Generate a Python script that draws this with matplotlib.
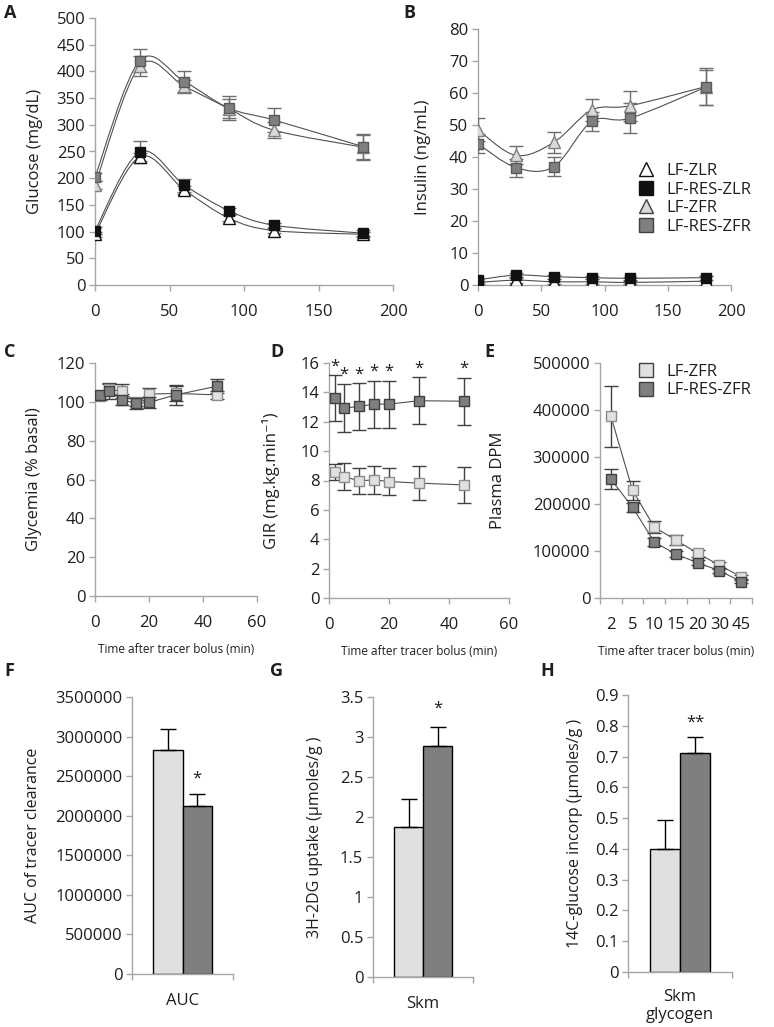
import numpy as np
import matplotlib
matplotlib.use("Agg")
import matplotlib.pyplot as plt
from matplotlib.path import Path
from matplotlib.patches import PathPatch
from matplotlib.lines import Line2D
from matplotlib.ticker import FuncFormatter

plt.rcParams["font.family"] = ["Open Sans", "DejaVu Sans"]

W, H = 774, 1027

# ---- data -------------------------------------------------------------
ogtt_time = [0, 30, 60, 90, 120, 180]

glucose_zlr = [95, 240, 178, 125, 102, 95]
glucose_zlr_err = [5, 8, 8, 6, 5, 5]
glucose_res_zlr = [102, 249, 187, 139, 112, 97]
glucose_res_zlr_err = [6, 20, 12, 6, 5, 6]
glucose_zfr = [187, 410, 372, 330, 290, 258]
glucose_zfr_err = [8, 18, 12, 18, 15, 22]
glucose_res_zfr = [202, 420, 381, 331, 309, 259]
glucose_res_zfr_err = [8, 22, 20, 22, 22, 24]

insulin_zlr = [0.8, 1.5, 1.0, 1.0, 0.8, 1.2]
insulin_zlr_err = [0.5, 1.0, 0.8, 0.8, 0.6, 1.5]
insulin_res_zlr = [1.6, 3.1, 2.6, 2.3, 2.1, 2.3]
insulin_res_zlr_err = [0.6, 0.8, 0.6, 0.5, 0.5, 0.6]
insulin_zfr = [48.5, 40.5, 44.6, 54.7, 56.0, 62.0]
insulin_zfr_err = [3.6, 2.8, 3.2, 3.4, 4.7, 5.8]
insulin_res_zfr = [44.1, 36.7, 37.0, 51.1, 52.1, 61.8]
insulin_res_zfr_err = [3.0, 2.8, 3.0, 3.0, 4.7, 5.5]

tracer_time = [2, 5, 10, 15, 20, 30, 45]
tracer_labels = ["2", "5", "10", "15", "20", "30", "45"]

glycemia_zfr = [103.0, 106.4, 105.5, 100.0, 104.0, 104.3, 103.6]
glycemia_zfr_err = [2, 3, 3.5, 2, 3, 4, 2]
glycemia_res_zfr = [103.5, 105.5, 101.2, 99.2, 99.7, 103.6, 108.0]
glycemia_res_zfr_err = [2, 4, 3, 3, 3, 5, 3.7]

gir_zfr = [8.57, 8.27, 7.98, 8.04, 7.93, 7.82, 7.70]
gir_zfr_err = [0.55, 0.9, 0.9, 0.95, 0.95, 1.15, 1.2]
gir_res_zfr = [13.6, 12.93, 13.04, 13.2, 13.2, 13.43, 13.4]
gir_res_zfr_err = [1.55, 1.65, 1.6, 1.6, 1.6, 1.6, 1.6]

dpm_zfr = [387000, 229000, 151000, 123000, 95000, 70000, 45000]
dpm_zfr_err = [65000, 21000, 13000, 10000, 8000, 6000, 5000]
dpm_res_zfr = [253000, 193000, 119000, 93000, 75000, 58000, 35000]
dpm_res_zfr_err = [21000, 10000, 8000, 6000, 5000, 4000, 4000]

auc_vals = [2830000, 2120000]
auc_err = [270000, 160000]
uptake_vals = [1.87, 2.89]
uptake_err = [0.36, 0.23]
glycogen_vals = [0.40, 0.71]
glycogen_err = [0.095, 0.055]

# ---- colours ----------------------------------------------------------
COLORS = {
    "axis": "#a6a6a6",
    "text": "#1e1e1e",
    "line": "#505050",
    "light": "#e0e0e0",
    "light_edge": "#8c8c8c",
    "dark": "#7f7f7f",
    "dark_edge": "#404040",
    "black": "#111111",
    "err": "#6e6e6e",
}

fig = plt.figure(figsize=(W / 100, H / 100), dpi=100)


def add_axes_px(left, top, right, bottom):
    return fig.add_axes([left / W, 1 - bottom / H, (right - left) / W, (bottom - top) / H])


def style_axes(ax, size):
    for s in ["top", "right"]:
        ax.spines[s].set_visible(False)
    for s in ["left", "bottom"]:
        ax.spines[s].set_color(COLORS["axis"])
        ax.spines[s].set_linewidth(1.0)
    ax.tick_params(axis="both", direction="out", length=4, width=1,
                   color=COLORS["axis"], labelsize=size, labelcolor=COLORS["text"])
    ax.tick_params(axis="y", pad=3)
    ax.tick_params(axis="x", pad=10)
    ax.yaxis.set_major_formatter(FuncFormatter(lambda v, p: f"{v:.10g}"))


def smooth_line(ax, x, y, color, lw=0.8):
    # excel-like smoothed line drawn as a bezier path through the points
    pts = np.column_stack([x, y]).astype(float)
    n = len(pts)
    verts = [pts[0]]
    codes = [Path.MOVETO]
    for i in range(n - 1):
        p0 = pts[i - 1] if i > 0 else pts[i]
        p1 = pts[i]
        p2 = pts[i + 1]
        p3 = pts[i + 2] if i + 2 < n else pts[i + 1]
        verts += [p1 + (p2 - p0) / 6, p2 - (p3 - p1) / 6, p2]
        codes += [Path.CURVE4] * 3
    ax.add_patch(PathPatch(Path(verts, codes), facecolor="none", edgecolor=color, lw=lw, zorder=2))


def series(ax, x, y, err, marker, ms, fc, ec, err_color, smooth=True):
    if smooth:
        smooth_line(ax, x, y, COLORS["line"])
    else:
        ax.plot(x, y, color=COLORS["line"], lw=0.8, zorder=2)
    ax.errorbar(x, y, yerr=err, fmt="none", ecolor=err_color, elinewidth=1,
                capsize=5, capthick=1, zorder=3)
    ax.plot(x, y, ls="none", marker=marker, ms=ms, mfc=fc, mec=ec, mew=1, zorder=4)


def panel_letter(x, y, s):
    fig.text(x / W, 1 - y / H, s, fontsize=13, fontweight="bold",
             color=COLORS["text"], ha="left", va="center")


# ---- A: glucose -------------------------------------------------------
ax_a = add_axes_px(95, 18, 393, 285)
style_axes(ax_a, 12)
series(ax_a, ogtt_time, glucose_zlr, glucose_zlr_err, "^", 8, "white", COLORS["black"], COLORS["err"])
series(ax_a, ogtt_time, glucose_res_zlr, glucose_res_zlr_err, "s", 7.5, COLORS["black"], COLORS["black"], COLORS["err"])
series(ax_a, ogtt_time, glucose_zfr, glucose_zfr_err, "^", 8, "#d9d9d9", COLORS["dark"], COLORS["err"])
series(ax_a, ogtt_time, glucose_res_zfr, glucose_res_zfr_err, "s", 7.5, COLORS["dark"], "#5a5a5a", COLORS["err"])
ax_a.set_xlim(0, 200)
ax_a.set_ylim(0, 500)
ax_a.set_xticks(np.arange(0, 201, 50))
ax_a.set_yticks(np.arange(0, 501, 50))
ax_a.set_ylabel("Glucose (mg/dL)", fontsize=12, color=COLORS["text"])
ax_a.yaxis.set_label_coords(-0.175, 0.5)

# ---- B: insulin -------------------------------------------------------
ax_b = add_axes_px(478, 29, 731, 285)
style_axes(ax_b, 12)
series(ax_b, ogtt_time, insulin_zlr, insulin_zlr_err, "^", 8, "white", COLORS["black"], COLORS["err"])
series(ax_b, ogtt_time, insulin_res_zlr, insulin_res_zlr_err, "s", 7.5, COLORS["black"], COLORS["black"], COLORS["err"])
series(ax_b, ogtt_time, insulin_zfr, insulin_zfr_err, "^", 8, "#d9d9d9", COLORS["dark"], COLORS["err"])
series(ax_b, ogtt_time, insulin_res_zfr, insulin_res_zfr_err, "s", 7.5, COLORS["dark"], "#5a5a5a", COLORS["err"])
ax_b.set_xlim(0, 200)
ax_b.set_ylim(0, 80)
ax_b.set_xticks(np.arange(0, 201, 50))
ax_b.set_yticks(np.arange(0, 81, 10))
ax_b.set_ylabel("Insulin (ng/mL)", fontsize=12, color=COLORS["text"])
ax_b.yaxis.set_label_coords(-0.185, 0.5)

handles = [
    Line2D([], [], ls="none", marker="^", ms=10, mfc="white", mec=COLORS["black"]),
    Line2D([], [], ls="none", marker="s", ms=10, mfc=COLORS["black"], mec=COLORS["black"]),
    Line2D([], [], ls="none", marker="^", ms=10, mfc="#d9d9d9", mec=COLORS["dark_edge"]),
    Line2D([], [], ls="none", marker="s", ms=10, mfc=COLORS["dark"], mec=COLORS["dark_edge"]),
]
ax_b.legend(handles, ["LF-ZLR", "LF-RES-ZLR", "LF-ZFR", "LF-RES-ZFR"],
            loc="upper left", bbox_to_anchor=(638 / W, 1 - 163 / H),
            bbox_transform=fig.transFigure, frameon=False, fontsize=12,
            handlelength=1.0, handletextpad=0.7, labelspacing=0.15,
            borderpad=0, borderaxespad=0, labelcolor=COLORS["text"])

# ---- C: glycemia ------------------------------------------------------
ax_c = add_axes_px(95, 363, 257, 596)
style_axes(ax_c, 12)
series(ax_c, tracer_time, glycemia_zfr, glycemia_zfr_err, "s", 7, COLORS["light"], COLORS["light_edge"], COLORS["dark_edge"], smooth=False)
series(ax_c, tracer_time, glycemia_res_zfr, glycemia_res_zfr_err, "s", 7, COLORS["dark"], COLORS["dark_edge"], COLORS["dark_edge"], smooth=False)
ax_c.set_xlim(0, 60)
ax_c.set_ylim(0, 120)
ax_c.set_xticks(np.arange(0, 61, 20))
ax_c.set_yticks(np.arange(0, 121, 20))
ax_c.set_ylabel("Glycemia (% basal)", fontsize=12, color=COLORS["text"])
ax_c.yaxis.set_label_coords(-0.33, 0.5)

# ---- D: GIR -----------------------------------------------------------
ax_d = add_axes_px(329, 363, 509, 598)
style_axes(ax_d, 12)
series(ax_d, tracer_time, gir_zfr, gir_zfr_err, "s", 7, COLORS["light"], COLORS["light_edge"], COLORS["dark_edge"], smooth=False)
series(ax_d, tracer_time, gir_res_zfr, gir_res_zfr_err, "s", 7, COLORS["dark"], COLORS["dark_edge"], COLORS["dark_edge"], smooth=False)
for x, v, e in zip(tracer_time, gir_res_zfr, gir_res_zfr_err):
    ax_d.text(x, v + e + 0.05, "*", ha="center", va="bottom", fontsize=12, color=COLORS["text"])
ax_d.set_xlim(0, 60)
ax_d.set_ylim(0, 16)
ax_d.set_xticks(np.arange(0, 61, 20))
ax_d.set_yticks(np.arange(0, 17, 2))
ax_d.set_ylabel("GIR (mg.kg.min\u207b\u00b9)", fontsize=12, color=COLORS["text"])
ax_d.yaxis.set_label_coords(-0.27, 0.5)

# ---- E: plasma DPM ----------------------------------------------------
ax_e = add_axes_px(600, 363, 752, 598)
style_axes(ax_e, 12)
pos = np.arange(len(tracer_labels))
series(ax_e, pos, dpm_zfr, dpm_zfr_err, "s", 7, COLORS["light"], COLORS["light_edge"], COLORS["dark_edge"], smooth=False)
series(ax_e, pos, dpm_res_zfr, dpm_res_zfr_err, "s", 7, COLORS["dark"], COLORS["dark_edge"], COLORS["dark_edge"], smooth=False)
ax_e.set_xlim(-0.5, len(tracer_labels) - 0.5)
ax_e.set_ylim(0, 500000)
ax_e.set_yticks(np.arange(0, 500001, 100000))
ax_e.set_xticks(np.arange(-0.5, len(tracer_labels), 1.0))
ax_e.set_xticklabels([])
ax_e.set_xticks(pos, minor=True)
ax_e.set_xticklabels(tracer_labels, minor=True)
ax_e.tick_params(axis="x", which="minor", length=0, pad=14, labelsize=12, labelcolor=COLORS["text"])
ax_e.set_ylabel("Plasma DPM", fontsize=12, color=COLORS["text"])
ax_e.yaxis.set_label_coords(-0.62, 0.5)
handles_e = [
    Line2D([], [], ls="none", marker="s", ms=10, mfc=COLORS["light"], mec=COLORS["dark_edge"]),
    Line2D([], [], ls="none", marker="s", ms=10, mfc=COLORS["dark"], mec=COLORS["dark_edge"]),
]
ax_e.legend(handles_e, ["LF-ZFR", "LF-RES-ZFR"], loc="upper left",
            bbox_to_anchor=(638 / W, 1 - 364 / H), bbox_transform=fig.transFigure,
            frameon=False, fontsize=12, handlelength=1.0, handletextpad=0.7,
            labelspacing=0.15, borderpad=0, borderaxespad=0, labelcolor=COLORS["text"])

for ax in (ax_c, ax_d, ax_e):
    ax.set_xlabel("Time after tracer bolus (min)", fontsize=8.5, color=COLORS["text"])
    h = ax.get_position().height * H
    ax.xaxis.set_label_coords(0.5, -(644 - 597) / h)


# ---- F, G, H: bars ----------------------------------------------------
def bar_panel(ax, vals, errs, ymax, step, label, star, star_y, ylabel, yl_x, pad):
    style_axes(ax, 12)
    xs = [-0.145, 0.145]
    ax.bar(xs, vals, width=0.29, color=[COLORS["light"], COLORS["dark"]],
           edgecolor="black", linewidth=1, zorder=2)
    ax.errorbar(xs, vals, yerr=[[0, 0], errs], fmt="none", ecolor="black",
                elinewidth=1, capsize=6, capthick=1, zorder=3)
    ax.text(xs[1], star_y, star, ha="center", va="center", fontsize=12, color=COLORS["text"])
    ax.set_xlim(-0.5, 0.5)
    ax.set_ylim(0, ymax)
    ax.set_yticks(np.arange(0, ymax + step / 2, step))
    ax.set_xticks([-0.5, 0.5])
    ax.set_xticklabels([])
    ax.set_xticks([0], minor=True)
    ax.set_xticklabels([label], minor=True)
    ax.tick_params(axis="x", which="minor", length=0, pad=pad, labelsize=12, labelcolor=COLORS["text"])
    ax.set_ylabel(ylabel, fontsize=11.5, color=COLORS["text"])
    ax.yaxis.set_label_coords(yl_x, 0.5)


ax_f = add_axes_px(132, 697, 233, 974)
bar_panel(ax_f, auc_vals, auc_err, 3500000, 500000, "AUC", "*", 2470000,
          "AUC of tracer clearance", -0.9, 14)
ax_g = add_axes_px(373, 697, 473, 977)
bar_panel(ax_g, uptake_vals, uptake_err, 3.5, 0.5, "Skm", "*", 3.35,
          "3H-2DG uptake (\u00b5moles/g )", -0.5, 14)
ax_h = add_axes_px(628, 695, 732, 972)
bar_panel(ax_h, glycogen_vals, glycogen_err, 0.9, 0.1, "Skm\nglycogen", "**", 0.81,
          "14C-glucose incorp (\u00b5moles/g )", -0.43, 12)

panel_letter(4, 13, "A")
panel_letter(403, 13, "B")
panel_letter(4, 352, "C")
panel_letter(270, 352, "D")
panel_letter(484, 352, "E")
panel_letter(4, 671, "F")
panel_letter(270, 671, "G")
panel_letter(540, 671, "H")

fig.savefig("out.png", dpi=100, facecolor="white")
